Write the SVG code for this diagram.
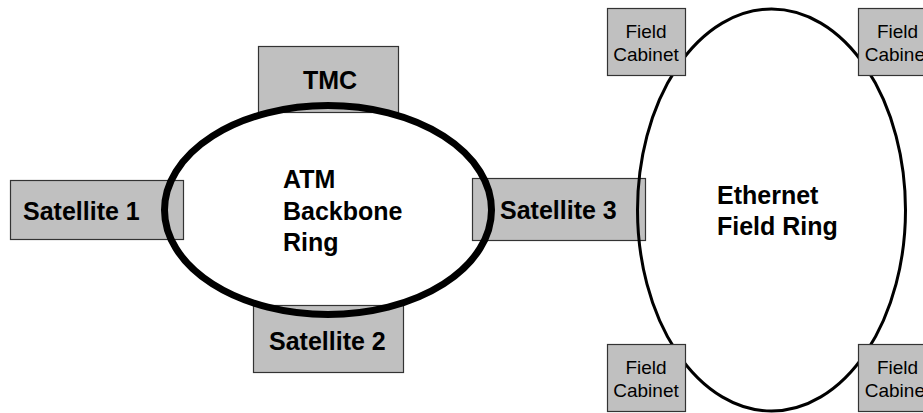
<svg xmlns="http://www.w3.org/2000/svg" width="923" height="413" viewBox="0 0 923 413">
<style>
.box{fill:#c0c0c0;stroke:#333;stroke-width:1.2}
.big{font-family:"Liberation Sans",Arial,sans-serif;font-weight:bold;font-size:25px;fill:#000}
.small{font-family:"Liberation Sans",Arial,sans-serif;font-size:19px;fill:#000;text-anchor:middle}
.ring{fill:none;stroke:#000}
</style>
<rect width="923" height="413" fill="#fff"/>
<g id="tmc"><rect class="box" x="258.5" y="46.5" width="140" height="66"/><text class="big" x="303" y="89">TMC</text></g>
<g id="satellite1"><rect class="box" x="10.5" y="180.5" width="173" height="59"/><text class="big" x="23" y="220">Satellite 1</text></g>
<g id="satellite2"><rect class="box" x="253.5" y="305.5" width="150" height="67"/><text class="big" x="269" y="350">Satellite 2</text></g>
<g id="satellite3"><rect class="box" x="472.5" y="178.5" width="173" height="62"/><text class="big" x="500" y="219">Satellite 3</text></g>
<g id="connectors">
<g id="atm-ring"><ellipse class="ring" cx="328" cy="210" rx="163.5" ry="104.5" stroke-width="7"/></g>
<g id="ethernet-ring"><ellipse class="ring" cx="771.5" cy="210" rx="134" ry="201" stroke-width="3"/></g>
</g>
<g id="atm-label"><text class="big" x="283" y="188">ATM</text><text class="big" x="283" y="220">Backbone</text><text class="big" x="283" y="251">Ring</text></g>
<g id="ethernet-label"><text class="big" x="717" y="204">Ethernet</text><text class="big" x="717" y="235">Field Ring</text></g>
<g id="cabinet-tl"><rect class="box" x="607.5" y="8.5" width="78" height="67"/><text class="small" x="646" y="38">Field</text><text class="small" x="646" y="61">Cabinet</text></g>
<g id="cabinet-tr"><rect class="box" x="858.5" y="8.5" width="78" height="67"/><text class="small" x="897.5" y="38">Field</text><text class="small" x="897.5" y="61">Cabinet</text></g>
<g id="cabinet-bl"><rect class="box" x="607.5" y="344.5" width="78" height="67"/><text class="small" x="646" y="374">Field</text><text class="small" x="646" y="397">Cabinet</text></g>
<g id="cabinet-br"><rect class="box" x="858.5" y="344.5" width="78" height="67"/><text class="small" x="897.5" y="374">Field</text><text class="small" x="897.5" y="397">Cabinet</text></g>
</svg>
